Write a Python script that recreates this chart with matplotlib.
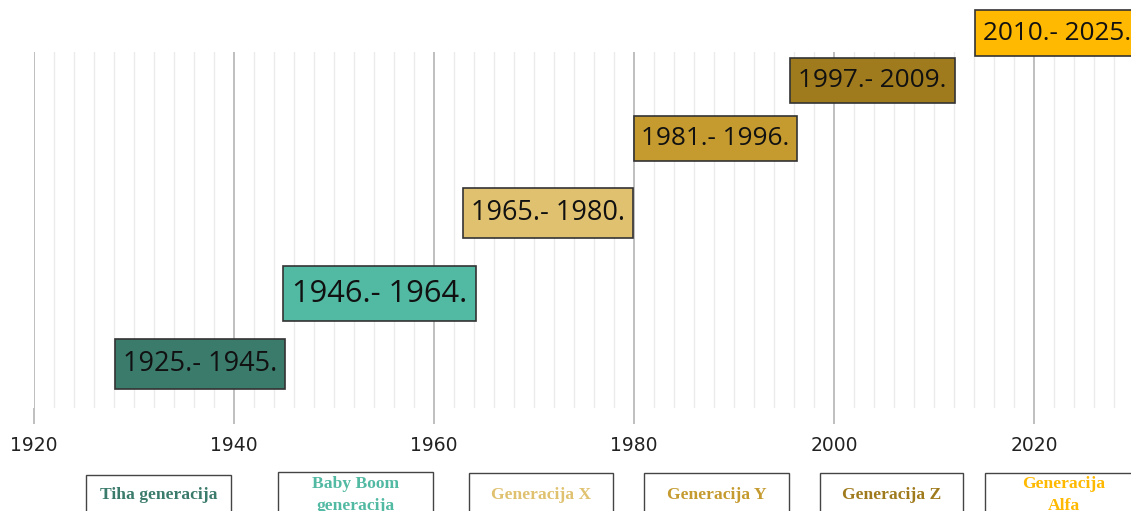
import matplotlib
matplotlib.use("Agg")
import matplotlib.pyplot as plt
from matplotlib.patches import Rectangle
from matplotlib.path import Path
from matplotlib.ticker import MultipleLocator

# ---- data ----
generations = ["Tiha generacija", "Baby Boom\ngeneracija", "Generacija X",
               "Generacija Y", "Generacija Z", "Generacija\nAlfa"]
start_years = [1925, 1946, 1965, 1981, 1997, 2010]
end_years = [1945, 1964, 1980, 1996, 2009, 2025]
colors = ["#3b7b6c", "#52b9a3", "#dfc16f", "#c59b30", "#a07b1d", "#ffb900"]
major_ticks = [1920, 1940, 1960, 1980, 2000, 2020]

# ---- layout (label placement) ----
label_x = [1936.6, 1954.55, 1971.4, 1988.15, 2003.85, 2022.3]
label_y = [0.1236, 0.3216, 0.5478, 0.757, 0.920, 1.053]
label_fs = [19.5, 22.2, 19.5, 18.8, 18.8, 18.8]


def rect_style(fx, fy):
    def style(x0, y0, width, height, mutation_size):
        dx, dy = fx * mutation_size, fy * mutation_size
        return Path([(x0 - dx, y0 - dy), (x0 + width + dx, y0 - dy),
                     (x0 + width + dx, y0 + height + dy), (x0 - dx, y0 + height + dy),
                     (x0 - dx, y0 - dy)], closed=True)
    return style


W, H = 1131, 511
fig = plt.figure(figsize=(W / 100, H / 100), dpi=100)
ax = fig.add_axes([34 / W, 1 - 408 / H, (W - 34) / W, 356 / H])
ax.set_xlim(1920, 1920 + (W - 34) / 10)
ax.set_ylim(0, 1)
for s in ax.spines.values():
    s.set_visible(False)
ax.set_yticks([])
ax.set_xticks(major_ticks)
ax.xaxis.set_minor_locator(MultipleLocator(2))
ax.grid(True, which="major", axis="x", color="#b4b4b4", lw=1.2)
ax.grid(True, which="minor", axis="x", color="#ebebeb", lw=1.0)
ax.tick_params(axis="x", which="major", length=11.5, width=1.2, color="#b4b4b4",
               pad=9, labelsize=13.5, labelcolor="#222222")
ax.tick_params(axis="x", which="minor", length=0)
for lab in ax.get_xticklabels():
    lab.set_fontfamily("DejaVu Sans")
ax.set_axisbelow(True)

for i in range(len(start_years)):
    ax.text(label_x[i], label_y[i], f"{start_years[i]}.- {end_years[i]}.",
            ha="center", va="center", fontsize=label_fs[i], family="Open Sans",
            color="#111111", clip_on=False, zorder=5,
            bbox=dict(boxstyle=rect_style(0.3, 0.39), fc=colors[i],
                      ec="#333333", lw=1.2))

# legend-like boxes at the bottom
box_left = [86, 278, 469, 644, 820, 985]
box_right = [231, 433, 613, 789, 963, 1143]
box_top = [475, 472, 473, 473, 473, 473]
for i, name in enumerate(generations):
    x0, x1 = box_left[i] / W, box_right[i] / W
    y1 = 1 - box_top[i] / H
    fig.patches.append(Rectangle((x0, y1 - 0.2), x1 - x0, 0.2,
                                 transform=fig.transFigure, fill=False,
                                 ec="#444444", lw=1.0))
    fig.text((x0 + x1) / 2, 1 - 494.5 / H, name, ha="center", va="center",
             fontsize=12.6, family="Liberation Serif", fontweight="bold",
             color=colors[i], linespacing=1.5)

fig.savefig("out.png", dpi=100)
